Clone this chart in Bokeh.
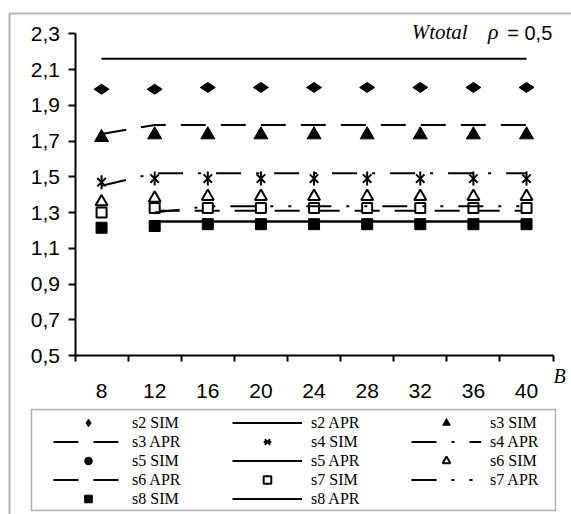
import math
from bokeh.plotting import figure
from bokeh.models import (FixedTicker, CustomJSTickFormatter, Legend, LegendItem,
                          Label, BoxAnnotation)
from bokeh.embed import file_html
from bokeh.resources import INLINE

nan = float("nan")

# ---- data ----
B = [8, 12, 16, 20, 24, 28, 32, 36, 40]
s2_sim = [1.99, 1.99, 2.00, 2.00, 2.00, 2.00, 2.00, 2.00, 2.00]
s2_apr = [2.16, 2.16, 2.16, 2.16, 2.16, 2.16, 2.16, 2.16, 2.16]
s3_sim = [1.72, 1.735, 1.735, 1.735, 1.735, 1.735, 1.735, 1.735, 1.735]
s3_apr = [1.74, 1.79, 1.79, 1.79, 1.79, 1.79, 1.79, 1.79, 1.79]
s4_sim = [1.47, 1.49, 1.49, 1.49, 1.49, 1.49, 1.49, 1.49, 1.49]
s4_apr = [1.45, 1.52, 1.52, 1.52, 1.52, 1.52, 1.52, 1.52, 1.52]
# s5 is not visible in the picture: it lies under the s8 marks
s5_sim = [1.215, 1.225, 1.235, 1.235, 1.235, 1.235, 1.235, 1.235, 1.235]
s5_apr = [nan, 1.25, 1.25, 1.25, 1.25, 1.25, 1.25, 1.25, 1.25]
s6_sim = [1.36, 1.38, 1.39, 1.39, 1.39, 1.39, 1.39, 1.39, 1.39]
s6_apr = [nan, 1.31, 1.31, 1.31, 1.31, 1.31, 1.31, 1.31, 1.31]
s7_sim = [1.30, 1.325, 1.325, 1.325, 1.325, 1.325, 1.325, 1.325, 1.325]
s7_apr = [nan, 1.30, 1.335, 1.335, 1.335, 1.335, 1.335, 1.335, 1.335]
s8_sim = [1.215, 1.225, 1.235, 1.235, 1.235, 1.235, 1.235, 1.235, 1.235]
s8_apr = [nan, 1.25, 1.25, 1.25, 1.25, 1.25, 1.25, 1.25, 1.25]

y_ticks = [0.5, 0.7, 0.9, 1.1, 1.3, 1.5, 1.7, 1.9, 2.1, 2.3]
x_minor = [6, 10, 14, 18, 22, 26, 30, 34, 38, 42]

# canvas geometry (pixels per unit chosen so the axes sit where the reference has them)
W, H = 571, 514
PX_X, PX_Y = 13.28, 178.75
X0 = 6 - 74.5 / PX_X
Y1 = 2.3 + 33.3 / PX_Y

p = figure(width=W, height=H, output_backend="svg", toolbar_location=None, title=None,
           x_range=(X0, X0 + W / PX_X), y_range=(Y1 - H / PX_Y, Y1),
           min_border=0, min_border_left=0, min_border_right=0,
           min_border_top=0, min_border_bottom=0)
p.grid.visible = False
p.outline_line_color = None
p.background_fill_color = "white"
p.border_fill_color = "white"

SANS = "Liberation Sans"
SERIF = "Liberation Serif"

# x axis
xa = p.xaxis[0]
xa.fixed_location = 0.5
xa.bounds = (6, 42)
xa.ticker = FixedTicker(ticks=B, minor_ticks=x_minor)
xa.major_tick_out = 0
xa.major_tick_in = 0
xa.minor_tick_out = 6
xa.minor_tick_in = 0
xa.minor_tick_line_width = 2
xa.minor_tick_line_color = "black"
xa.axis_line_width = 2
xa.axis_line_color = "black"
xa.major_label_text_font = SANS
xa.major_label_text_font_size = "21px"
xa.major_label_text_color = "black"
xa.major_label_standoff = 22

# y axis
ya = p.yaxis[0]
ya.fixed_location = 6
ya.bounds = (0.5, 2.3)
ya.ticker = FixedTicker(ticks=y_ticks, minor_ticks=[])
ya.formatter = CustomJSTickFormatter(code="return tick.toFixed(1).replace('.', ',');")
ya.major_tick_out = 7
ya.major_tick_in = 0
ya.major_tick_line_width = 2
ya.axis_line_width = 2
ya.axis_line_color = "black"
ya.major_tick_line_color = "black"
ya.major_label_text_font = SANS
ya.major_label_text_font_size = "21px"
ya.major_label_text_color = "black"
ya.major_label_standoff = 8

LW = 2
r_s2s = p.scatter(B, s2_sim, marker="diamond", angle=math.pi / 2, size=15, color="black")
r_s2a = p.line(B, s2_apr, line_color="black", line_width=LW)
r_s3s = p.scatter(B, s3_sim, marker="triangle", size=14, color="black")
r_s3a = p.line(B, s3_apr, line_color="black", line_width=LW, line_dash="25 15")
r_s4s1 = p.scatter(B, s4_sim, marker="x", size=12, line_color="black", line_width=2)
r_s4s2 = p.scatter(B, s4_sim, marker="dash", angle=math.pi / 2, size=14, line_color="black", line_width=2)
r_s4a = p.line(B, s4_apr, line_color="black", line_width=LW, line_dash="25 15 3 15")
r_s5s = p.scatter(B, s5_sim, marker="circle", size=8, color="black")
r_s5a = p.line(B, s5_apr, line_color="black", line_width=LW)
r_s6s = p.scatter(B, s6_sim, marker="triangle", size=12, fill_color="white", line_color="black", line_width=2)
r_s6a = p.line(B, s6_apr, line_color="black", line_width=LW, line_dash="25 15")
r_s7s = p.scatter(B, s7_sim, marker="square", size=10, fill_color="white", line_color="black", line_width=2)
r_s7a = p.line(B, s7_apr, line_color="black", line_width=LW, line_dash="25 15 3 15 3 15")
r_s8s = p.scatter(B, s8_sim, marker="square", size=11, color="black")
r_s8a = p.line(B, s8_apr, line_color="black", line_width=LW)

items = [
    LegendItem(label="s2 SIM", renderers=[r_s2s]),
    LegendItem(label="s2 APR", renderers=[r_s2a]),
    LegendItem(label="s3 SIM", renderers=[r_s3s]),
    LegendItem(label="s3 APR", renderers=[r_s3a]),
    LegendItem(label="s4 SIM", renderers=[r_s4s1, r_s4s2]),
    LegendItem(label="s4 APR", renderers=[r_s4a]),
    LegendItem(label="s5 SIM", renderers=[r_s5s]),
    LegendItem(label="s5 APR", renderers=[r_s5a]),
    LegendItem(label="s6 SIM", renderers=[r_s6s]),
    LegendItem(label="s6 APR", renderers=[r_s6a]),
    LegendItem(label="s7 SIM", renderers=[r_s7s]),
    LegendItem(label="s7 APR", renderers=[r_s7a]),
    LegendItem(label="s8 SIM", renderers=[r_s8s]),
    LegendItem(label="s8 APR", renderers=[r_s8a]),
]
legend = Legend(items=items, ncols=3, orientation="horizontal",
                location=(53, 6), padding=0, spacing=0, margin=0,
                glyph_width=70, glyph_height=19, label_height=19,
                label_width=100, label_standoff=9,
                label_text_font=SERIF, label_text_font_size="16px",
                label_text_color="black",
                border_line_alpha=0, background_fill_alpha=0)
p.add_layout(legend, "center")

# legend frame and outer frame
p.add_layout(BoxAnnotation(left=31, right=555, top=409, bottom=510,
                           left_units="canvas", right_units="canvas",
                           top_units="canvas", bottom_units="canvas",
                           fill_alpha=0, line_color="black", line_width=1.5,
                           level="overlay"))
p.add_layout(BoxAnnotation(left=9, right=700, top=13, bottom=700,
                           left_units="canvas", right_units="canvas",
                           top_units="canvas", bottom_units="canvas",
                           fill_alpha=0, line_color="black", line_width=2,
                           level="overlay"))

p.add_layout(Label(x=31.35, y=2.244, text="Wtotal", text_font=SERIF,
                   text_font_style="italic", text_font_size="21px", text_color="black"))
p.add_layout(Label(x=37.1, y=2.244, text="ρ", text_font=SERIF,
                   text_font_style="italic", text_font_size="22px", text_color="black"))
p.add_layout(Label(x=38.55, y=2.244, text="= 0,5", text_font=SANS,
                   text_font_size="20px", text_color="black"))
p.add_layout(Label(x=42.03, y=0.323, text="B", text_font=SERIF,
                   text_font_style="italic", text_font_size="20px", text_color="black"))

open("out.html", "w").write(file_html(p, INLINE))
